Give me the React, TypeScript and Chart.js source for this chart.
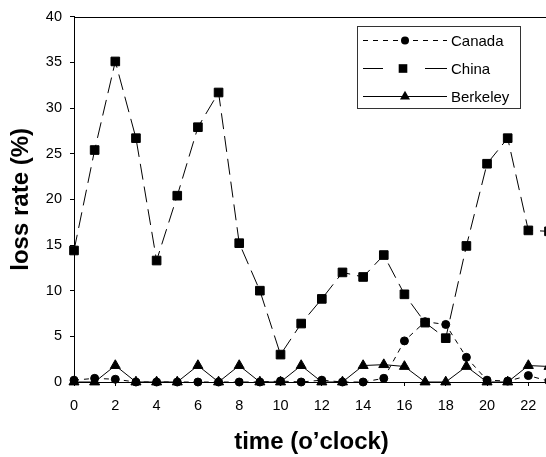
import React, { useEffect, useRef } from 'react';
import { Chart, registerables } from 'chart.js';

Chart.register(...registerables);

const hours = [0, 1, 2, 3, 4, 5, 6, 7, 8, 9, 10, 11, 12, 13, 14, 15, 16, 17, 18, 19, 20, 21, 22, 23];
const canada = [0.2, 0.4, 0.3, 0, 0, 0, 0, 0, 0, 0, 0.1, 0, 0.2, 0, 0, 0.4, 4.5, 6.6, 6.3, 2.7, 0.2, 0.1, 0.7, 0.1];
const china = [14.4, 25.4, 35.1, 26.7, 13.3, 20.4, 27.9, 31.7, 15.2, 10.0, 3.0, 6.4, 9.1, 12.0, 11.5, 13.9, 9.6, 6.5, 4.8, 14.9, 23.9, 26.7, 16.6, 16.5];
const berkeley = [0, 0, 1.8, 0, 0, 0, 1.8, 0, 1.8, 0, 0, 1.8, 0, 0, 1.8, 1.9, 1.7, 0, 0, 1.7, 0, 0, 1.8, 1.7];
const seriesNames = ['Canada', 'China', 'Berkeley'];
const xTitle = 'time (o\u2019clock)';
const yTitle = 'loss rate (%)';

const FONT = "'Liberation Sans', Arial, Helvetica, sans-serif";

function drawMarker(ctx: CanvasRenderingContext2D, style: string, r: number, x: number, y: number) {
  ctx.beginPath();
  if (style === 'circle') {
    ctx.arc(x, y, r, 0, Math.PI * 2);
  } else if (style === 'rect') {
    const s = Math.SQRT1_2 * r;
    ctx.rect(x - s, y - s, 2 * s, 2 * s);
  } else {
    let rad = 0;
    ctx.moveTo(x + Math.sin(rad) * r, y - Math.cos(rad) * r);
    rad += (2 * Math.PI) / 3;
    ctx.lineTo(x + Math.sin(rad) * r, y - Math.cos(rad) * r);
    rad += (2 * Math.PI) / 3;
    ctx.lineTo(x + Math.sin(rad) * r, y - Math.cos(rad) * r);
    ctx.closePath();
  }
  ctx.fillStyle = '#000';
  ctx.fill();
}

const framePlugin = {
  id: 'frameAndLegend',
  afterDraw(chart: any) {
    const { ctx, chartArea } = chart;
    const { left, top, right } = chartArea;
    ctx.save();
    ctx.strokeStyle = '#000';
    ctx.lineWidth = 1;
    ctx.setLineDash([]);
    ctx.beginPath();
    ctx.moveTo(left, Math.round(top) + 0.5);
    ctx.lineTo(right, Math.round(top) + 0.5);
    ctx.moveTo(Math.round(right) + 0.5, top);
    ctx.lineTo(Math.round(right) + 0.5, chartArea.bottom);
    ctx.stroke();

    // legend box
    const bx = 357.5, by = 26.5, bw = 163, bh = 82;
    ctx.fillStyle = '#fff';
    ctx.fillRect(bx, by, bw, bh);
    ctx.strokeStyle = '#333';
    ctx.strokeRect(bx, by, bw, bh);

    const rows = [40.5, 68.5, 96.5];
    chart.data.datasets.forEach((ds: any, i: number) => {
      const y = rows[i];
      ctx.strokeStyle = '#000';
      ctx.lineWidth = 1;
      if (i === 1) {
        ctx.setLineDash([]);
        ctx.beginPath();
        ctx.moveTo(363, y);
        ctx.lineTo(383, y);
        ctx.moveTo(425, y);
        ctx.lineTo(447, y);
        ctx.stroke();
      } else {
        ctx.setLineDash(ds.borderDash || []);
        ctx.beginPath();
        ctx.moveTo(363, y);
        ctx.lineTo(447, y);
        ctx.stroke();
      }
      ctx.setLineDash([]);
      drawMarker(ctx, ds.pointStyle, ds.pointRadius, i === 1 ? 403 : 405, y);
      ctx.fillStyle = '#000';
      ctx.font = `15px ${FONT}`;
      ctx.textAlign = 'left';
      ctx.textBaseline = 'middle';
      ctx.fillText(ds.label, 451, y + 1);
    });
    ctx.restore();
  },
};

export default function App() {
  const ref = useRef<HTMLCanvasElement | null>(null);

  useEffect(() => {
    if (!ref.current) return;
    const mk = (vals: number[]) => hours.map((h, i) => ({ x: h, y: vals[i] }));
    const common = {
      borderColor: '#000',
      backgroundColor: '#000',
      borderWidth: 1,
      pointBackgroundColor: '#000',
      pointBorderColor: '#000',
      pointBorderWidth: 1,
      tension: 0,
      clip: false as any,
      fill: false,
    };
    const chart = new Chart(ref.current, {
      type: 'line',
      data: {
        datasets: [
          { ...common, label: seriesNames[0], data: mk(canada), borderDash: [5, 5], pointStyle: 'circle', pointRadius: 4, order: 3 },
          { ...common, label: seriesNames[1], data: mk(china), borderDash: [16, 7], pointStyle: 'rect', pointRadius: 6.1, order: 2 },
          { ...common, label: seriesNames[2], data: mk(berkeley), borderDash: [], pointStyle: 'triangle', pointRadius: 5.8, order: 1 },
        ] as any,
      },
      options: {
        animation: false,
        responsive: false,
        devicePixelRatio: 1,
        layout: { padding: { top: 13, right: 11, left: 0, bottom: 0 } },
        plugins: {
          legend: { display: false },
          tooltip: { enabled: false },
        },
        scales: {
          x: {
            type: 'linear',
            min: 0,
            max: 23,
            afterFit: (s: any) => { s.height = 75; },
            grid: { drawOnChartArea: false, drawTicks: true, tickLength: 4, color: '#000' },
            border: { display: true, color: '#000', width: 1 },
            ticks: { stepSize: 2, includeBounds: false, padding: 11, color: '#000', font: { family: FONT, size: 14.5 } },
            title: { display: true, text: xTitle, color: '#000', font: { family: FONT, size: 24, weight: 'bold' }, padding: { top: 0, bottom: 0 } },
          },
          y: {
            min: 0,
            max: 40,
            afterFit: (s: any) => { s.width = 74; },
            grid: { drawOnChartArea: false, drawTicks: true, tickLength: 4, color: '#000' },
            border: { display: true, color: '#000', width: 1 },
            ticks: { stepSize: 5, padding: 8, color: '#000', font: { family: FONT, size: 14.5 } },
            title: { display: true, text: yTitle, color: '#000', font: { family: FONT, size: 24, weight: 'bold' }, padding: { top: 6.5, bottom: 0 } },
          },
        },
      } as any,
      plugins: [framePlugin],
    });
    return () => chart.destroy();
  }, []);

  return (
    <div style={{ position: 'fixed', left: 0, top: 0, width: 546, height: 457, overflow: 'hidden', background: '#fff' }}>
      <canvas ref={ref} width={560} height={457} style={{ display: 'block', width: 560, height: 457 }} />
    </div>
  );
}
